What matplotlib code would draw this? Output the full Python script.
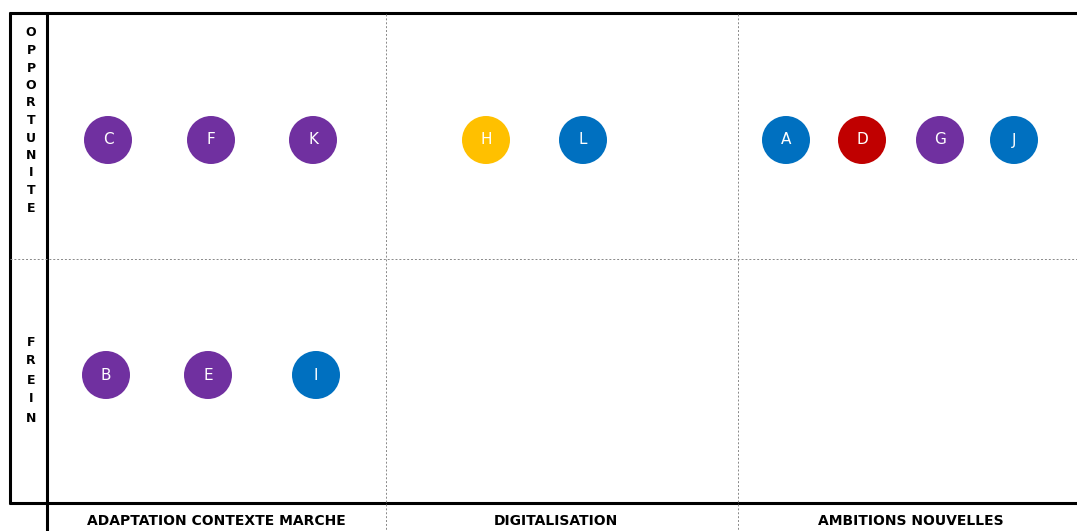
import matplotlib.pyplot as plt
from matplotlib.patches import Circle

# columns / rows of the matrix
columns = ['ADAPTATION CONTEXTE MARCHE', 'DIGITALISATION', 'AMBITIONS NOUVELLES']
col_centers = [216, 556, 911]
rows = ['OPPORTUNITE', 'FREIN']

# items (letter, x, y, colour)
letters = ['C', 'F', 'K', 'H', 'L', 'A', 'D', 'G', 'J', 'B', 'E', 'I']
xs = [108, 211, 313, 486, 583, 786, 862, 940, 1014, 106, 208, 316]
ys = [140, 140, 140, 140, 140, 140, 140, 140, 140, 375, 375, 375]
purple = '#7030A0'
blue = '#0070C0'
red = '#C00000'
yellow = '#FFC000'
colors = [purple, purple, purple, yellow, blue, blue, red, purple, blue,
          purple, purple, blue]

W, H = 1077, 531
fig = plt.figure(figsize=(W / 100, H / 100), dpi=100)
ax = fig.add_axes([0, 0, 1, 1])
ax.set_xlim(0, W)
ax.set_ylim(H, 0)
ax.axis('off')

# frame
lw = 2.2
ax.plot([9, W], [13, 13], color='black', lw=lw, solid_capstyle='butt')
ax.plot([9, W], [503, 503], color='black', lw=lw, solid_capstyle='butt')
ax.plot([10, 10], [12, 504], color='black', lw=lw, solid_capstyle='butt')
ax.plot([47, 47], [12, H], color='black', lw=lw, solid_capstyle='butt')

# dotted grid
dot = dict(color='#888888', lw=0.7, linestyle=(0, (2, 2)))
ax.plot([10, W], [259, 259], **dot)
ax.plot([386, 386], [14, H], **dot)
ax.plot([738, 738], [14, H], **dot)

# row labels (stacked letters)
row_tops = [33, 342]
row_steps = [17.5, 19]
for name, top, step in zip(rows, row_tops, row_steps):
    for i, ch in enumerate(name):
        ax.text(31, top + i * step, ch, ha='center', va='center',
                fontsize=9, fontweight='bold', color='black')

# column labels
for name, cx in zip(columns, col_centers):
    ax.text(cx, 521, name, ha='center', va='center', fontsize=10,
            fontweight='bold', color='black')

# circles
for l, x, y, c in zip(letters, xs, ys, colors):
    ax.add_patch(Circle((x, y), 24, color=c, lw=0))
    ax.text(x, y, l, ha='center', va='center', color='white', fontsize=11)

fig.savefig('out.png', dpi=100)
